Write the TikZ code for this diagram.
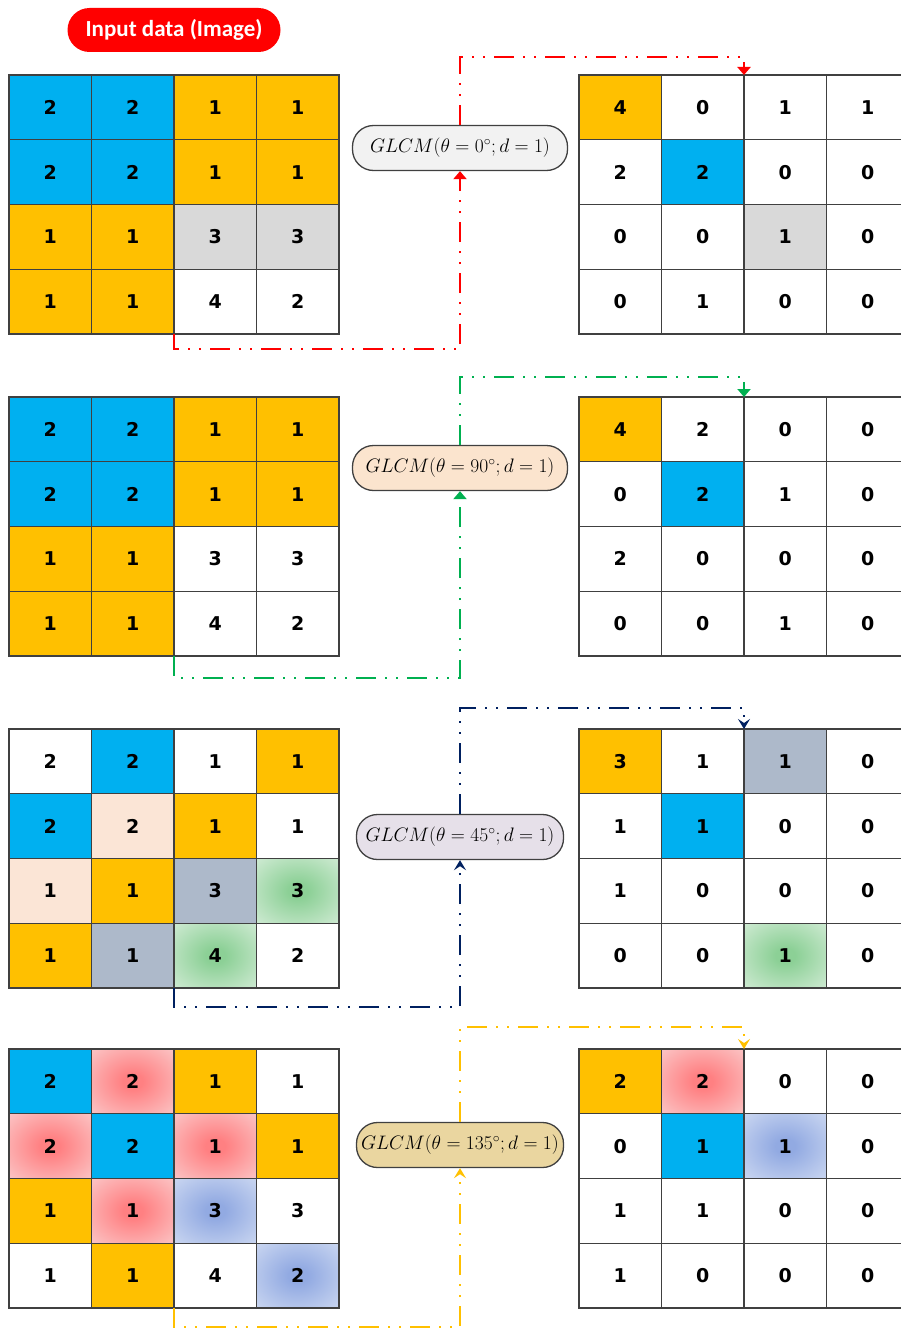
\documentclass[tikz,border=0pt]{standalone}
\usepackage{fix-cm}
\usepackage{fontspec}
\usepackage{tikz}
\usetikzlibrary{arrows.meta}
\newfontfamily\numfont{DejaVu Sans}
\newfontfamily\titlefont{Carlito}
\definecolor{gridline}{RGB}{64,64,64}
\definecolor{sky}{RGB}{0,176,240}
\definecolor{amber}{RGB}{255,192,0}
\definecolor{silver}{RGB}{217,217,217}
\definecolor{peach}{RGB}{251,229,214}
\definecolor{slate}{RGB}{173,185,202}
\definecolor{glowred}{RGB}{255,128,130}
\definecolor{glowredout}{RGB}{250,216,216}
\definecolor{glowblue}{RGB}{146,170,226}
\definecolor{glowblueout}{RGB}{218,227,245}
\definecolor{glowgreen}{RGB}{140,208,150}
\definecolor{glowgreenout}{RGB}{226,242,228}
\definecolor{pillgray}{RGB}{242,242,242}
\definecolor{pillpeach}{RGB}{251,228,206}
\definecolor{pilllilac}{RGB}{230,224,233}
\definecolor{pilltan}{RGB}{234,214,160}
\definecolor{flowred}{RGB}{255,0,0}
\definecolor{flowgreen}{RGB}{0,176,80}
\definecolor{flownavy}{RGB}{0,32,96}
\definecolor{flowgold}{RGB}{255,192,0}
\pgfdeclareradialshading{redglowshade}{\pgfpoint{0bp}{0bp}}{color(0bp)=(glowred); color(6bp)=(glowred); color(44bp)=(glowredout); color(50bp)=(glowredout)}
\pgfdeclareradialshading{blueglowshade}{\pgfpoint{0bp}{0bp}}{color(0bp)=(glowblue); color(6bp)=(glowblue); color(44bp)=(glowblueout); color(50bp)=(glowblueout)}
\pgfdeclareradialshading{greenglowshade}{\pgfpoint{0bp}{0bp}}{color(0bp)=(glowgreen); color(6bp)=(glowgreen); color(44bp)=(glowgreenout); color(50bp)=(glowgreenout)}
\tikzset{
  cell/.style={draw=gridline,line width=1.4pt,minimum width=82.5pt,minimum height=64.75pt,inner sep=0pt,outer sep=0pt,font=\numfont\bfseries\fontsize{19}{22}\selectfont},
  plainc/.style={fill=white},
  skyc/.style={fill=sky},
  amberc/.style={fill=amber},
  silverc/.style={fill=silver},
  peachc/.style={fill=peach},
  slatec/.style={fill=slate},
  redglow/.style={shading=redglowshade},
  blueglow/.style={shading=blueglowshade},
  greenglow/.style={shading=greenglowshade},
  pill/.style={draw=gridline,line width=1.3pt,rounded corners=21pt,minimum height=45pt,inner sep=0pt,font=\fontsize{19.5}{22}\selectfont},
  flow/.style={draw=#1,line width=2pt,dash pattern=on 20pt off 9pt on 2pt off 9pt on 2pt off 9pt,-{Triangle[length=8pt,width=13pt]}},
  barb/.style={-{Stealth[length=10pt,width=12pt,inset=4pt]}}
}
% one 4x4 matrix: name, left x, top y, entries value/style
\newcommand{\cellgrid}[4]{%
  \foreach \v/\s [count=\i from 0] in {#4}{
    \pgfmathtruncatemacro{\col}{mod(\i,4)}
    \pgfmathtruncatemacro{\row}{div(\i,4)}
    \node[cell,\s] (#1-\i) at ({#2+41.25+82.5*\col},{#3+32.375+64.75*\row}) {\v};
  }}
\begin{document}
\begin{tikzpicture}[x=1pt,y=-1pt]
  \useasboundingbox (0,0) rectangle (901,1330);
  \clip (0,0) rectangle (901,1330);

  \node[fill=red,rounded corners=22pt,minimum width=213pt,minimum height=44pt,text=white,font=\titlefont\bfseries\fontsize{23}{26}\selectfont] (title) at (174,30) {Input data (Image)};

  % theta = 0
  \cellgrid{a}{9}{75}{2/skyc,2/skyc,1/amberc,1/amberc,2/skyc,2/skyc,1/amberc,1/amberc,1/amberc,1/amberc,3/silverc,3/silverc,1/amberc,1/amberc,4/plainc,2/plainc}
  \cellgrid{ra}{579}{75}{4/amberc,0/plainc,1/plainc,1/plainc,2/plainc,2/skyc,0/plainc,0/plainc,0/plainc,0/plainc,1/silverc,0/plainc,0/plainc,1/plainc,0/plainc,0/plainc}
  \node[pill,fill=pillgray,minimum width=215pt] (g1) at (460,148) {$GLCM\bigl(\theta=0^{\circ};d=1\bigr)$};
  \draw[flow=flowred] (a-13.south east) -- ([yshift=-15pt]a-13.south east) -| (g1.south);
  \draw[flow=flowred] (g1.north) |- ([yshift=18pt]ra-1.north east) -- (ra-1.north east);

  % theta = 90
  \cellgrid{b}{9}{397}{2/skyc,2/skyc,1/amberc,1/amberc,2/skyc,2/skyc,1/amberc,1/amberc,1/amberc,1/amberc,3/plainc,3/plainc,1/amberc,1/amberc,4/plainc,2/plainc}
  \cellgrid{rb}{579}{397}{4/amberc,2/plainc,0/plainc,0/plainc,0/plainc,2/skyc,1/plainc,0/plainc,2/plainc,0/plainc,0/plainc,0/plainc,0/plainc,0/plainc,1/plainc,0/plainc}
  \node[pill,fill=pillpeach,minimum width=215pt] (g2) at (460,468) {$GLCM\bigl(\theta=90^{\circ};d=1\bigr)$};
  \draw[flow=flowgreen] (b-13.south east) -- ([yshift=-22pt]b-13.south east) -| (g2.south);
  \draw[flow=flowgreen] (g2.north) |- ([yshift=20pt]rb-1.north east) -- (rb-1.north east);

  % theta = 45
  \cellgrid{c}{9}{729}{2/plainc,2/skyc,1/plainc,1/amberc,2/skyc,2/peachc,1/amberc,1/plainc,1/peachc,1/amberc,3/slatec,3/greenglow,1/amberc,1/slatec,4/greenglow,2/plainc}
  \cellgrid{rc}{579}{729}{3/amberc,1/plainc,1/slatec,0/plainc,1/plainc,1/skyc,0/plainc,0/plainc,1/plainc,0/plainc,0/plainc,0/plainc,0/plainc,0/plainc,1/greenglow,0/plainc}
  \node[pill,fill=pilllilac,minimum width=207pt] (g3) at (460,837) {$GLCM\bigl(\theta=45^{\circ};d=1\bigr)$};
  \draw[flow=flownavy,barb] (c-13.south east) -- ([yshift=-19pt]c-13.south east) -| (g3.south);
  \draw[flow=flownavy,barb] (g3.north) |- ([yshift=21pt]rc-1.north east) -- (rc-1.north east);

  % theta = 135
  \cellgrid{d}{9}{1049}{2/skyc,2/redglow,1/amberc,1/plainc,2/redglow,2/skyc,1/redglow,1/amberc,1/amberc,1/redglow,3/blueglow,3/plainc,1/plainc,1/amberc,4/plainc,2/blueglow}
  \cellgrid{rd}{579}{1049}{2/amberc,2/redglow,0/plainc,0/plainc,0/plainc,1/skyc,1/blueglow,0/plainc,1/plainc,1/plainc,0/plainc,0/plainc,1/plainc,0/plainc,0/plainc,0/plainc}
  \node[pill,fill=pilltan,minimum width=207pt] (g4) at (460,1145) {$GLCM\bigl(\theta=135^{\circ};d=1\bigr)$};
  \draw[flow=flowgold,barb] (d-13.south east) -- ([yshift=-19pt]d-13.south east) -| (g4.south);
  \draw[flow=flowgold,barb] (g4.north) |- ([yshift=22pt]rd-1.north east) -- (rd-1.north east);
\end{tikzpicture}
\end{document}
